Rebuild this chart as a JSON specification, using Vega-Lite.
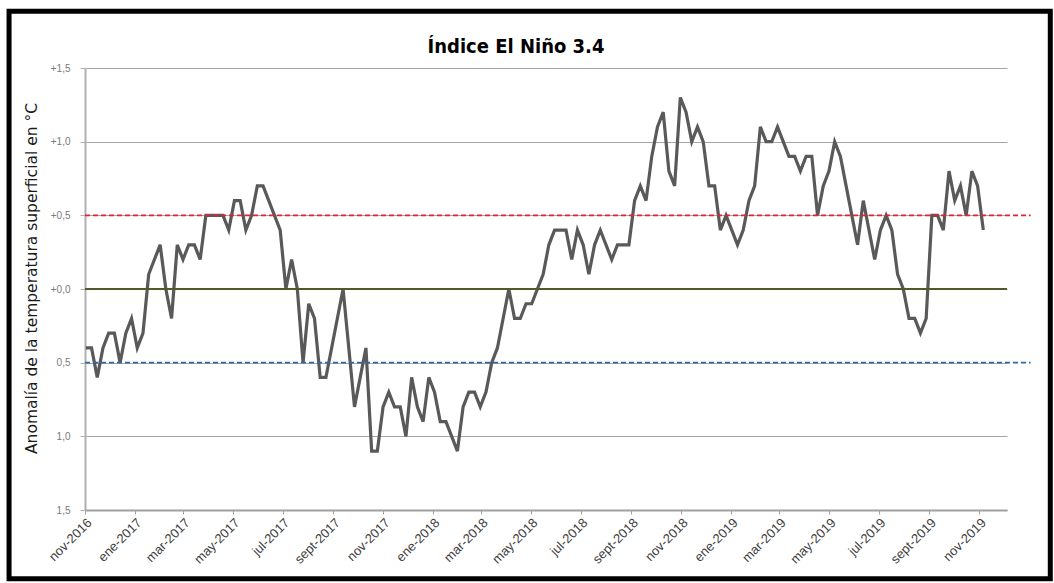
{
  "$schema": "https://vega.github.io/schema/vega-lite/v6.json",
  "width": 922,
  "height": 442,
  "autosize": "none",
  "padding": {"left": 85, "top": 68, "right": 47, "bottom": 73},
  "background": "white",
  "config": {"view": {"stroke": null}, "font": "Liberation Sans"},
  "title": {
    "text": "Índice El Niño 3.4",
    "anchor": "middle",
    "frame": "group",
    "dx": -30,
    "offset": -48,
    "font": "Liberation Sans Narrow, DejaVu Sans Condensed, sans-serif",
    "fontSize": 20,
    "fontWeight": 600,
    "color": "#000000"
  },
  "data": {
    "values": [
      {"d": "2016-11-02", "v": -0.4}, {"d": "2016-11-09", "v": -0.4}, {"d": "2016-11-16", "v": -0.6}, {"d": "2016-11-23", "v": -0.4},
      {"d": "2016-11-30", "v": -0.3}, {"d": "2016-12-07", "v": -0.3}, {"d": "2016-12-14", "v": -0.5}, {"d": "2016-12-21", "v": -0.3},
      {"d": "2016-12-28", "v": -0.2}, {"d": "2017-01-04", "v": -0.4}, {"d": "2017-01-11", "v": -0.3}, {"d": "2017-01-18", "v": 0.1},
      {"d": "2017-01-25", "v": 0.2}, {"d": "2017-02-01", "v": 0.3}, {"d": "2017-02-08", "v": 0.0}, {"d": "2017-02-15", "v": -0.2},
      {"d": "2017-02-22", "v": 0.3}, {"d": "2017-03-01", "v": 0.2}, {"d": "2017-03-08", "v": 0.3}, {"d": "2017-03-15", "v": 0.3},
      {"d": "2017-03-22", "v": 0.2}, {"d": "2017-03-29", "v": 0.5}, {"d": "2017-04-05", "v": 0.5}, {"d": "2017-04-12", "v": 0.5},
      {"d": "2017-04-19", "v": 0.5}, {"d": "2017-04-26", "v": 0.4}, {"d": "2017-05-03", "v": 0.6}, {"d": "2017-05-10", "v": 0.6},
      {"d": "2017-05-17", "v": 0.4}, {"d": "2017-05-24", "v": 0.5}, {"d": "2017-05-31", "v": 0.7}, {"d": "2017-06-07", "v": 0.7},
      {"d": "2017-06-14", "v": 0.6}, {"d": "2017-06-21", "v": 0.5}, {"d": "2017-06-28", "v": 0.4}, {"d": "2017-07-05", "v": 0.0},
      {"d": "2017-07-12", "v": 0.2}, {"d": "2017-07-19", "v": 0.0}, {"d": "2017-07-26", "v": -0.5}, {"d": "2017-08-02", "v": -0.1},
      {"d": "2017-08-09", "v": -0.2}, {"d": "2017-08-16", "v": -0.6}, {"d": "2017-08-23", "v": -0.6}, {"d": "2017-08-30", "v": -0.4},
      {"d": "2017-09-06", "v": -0.2}, {"d": "2017-09-13", "v": 0.0}, {"d": "2017-09-20", "v": -0.4}, {"d": "2017-09-27", "v": -0.8},
      {"d": "2017-10-04", "v": -0.6}, {"d": "2017-10-11", "v": -0.4}, {"d": "2017-10-18", "v": -1.1}, {"d": "2017-10-25", "v": -1.1},
      {"d": "2017-11-01", "v": -0.8}, {"d": "2017-11-08", "v": -0.7}, {"d": "2017-11-15", "v": -0.8}, {"d": "2017-11-22", "v": -0.8},
      {"d": "2017-11-29", "v": -1.0}, {"d": "2017-12-06", "v": -0.6}, {"d": "2017-12-13", "v": -0.8}, {"d": "2017-12-20", "v": -0.9},
      {"d": "2017-12-27", "v": -0.6}, {"d": "2018-01-03", "v": -0.7}, {"d": "2018-01-10", "v": -0.9}, {"d": "2018-01-17", "v": -0.9},
      {"d": "2018-01-24", "v": -1.0}, {"d": "2018-01-31", "v": -1.1}, {"d": "2018-02-07", "v": -0.8}, {"d": "2018-02-14", "v": -0.7},
      {"d": "2018-02-21", "v": -0.7}, {"d": "2018-02-28", "v": -0.8}, {"d": "2018-03-07", "v": -0.7}, {"d": "2018-03-14", "v": -0.5},
      {"d": "2018-03-21", "v": -0.4}, {"d": "2018-03-28", "v": -0.2}, {"d": "2018-04-04", "v": 0.0}, {"d": "2018-04-11", "v": -0.2},
      {"d": "2018-04-18", "v": -0.2}, {"d": "2018-04-25", "v": -0.1}, {"d": "2018-05-02", "v": -0.1}, {"d": "2018-05-09", "v": 0.0},
      {"d": "2018-05-16", "v": 0.1}, {"d": "2018-05-23", "v": 0.3}, {"d": "2018-05-30", "v": 0.4}, {"d": "2018-06-06", "v": 0.4},
      {"d": "2018-06-13", "v": 0.4}, {"d": "2018-06-20", "v": 0.2}, {"d": "2018-06-27", "v": 0.4}, {"d": "2018-07-04", "v": 0.3},
      {"d": "2018-07-11", "v": 0.1}, {"d": "2018-07-18", "v": 0.3}, {"d": "2018-07-25", "v": 0.4}, {"d": "2018-08-01", "v": 0.3},
      {"d": "2018-08-08", "v": 0.2}, {"d": "2018-08-15", "v": 0.3}, {"d": "2018-08-22", "v": 0.3}, {"d": "2018-08-29", "v": 0.3},
      {"d": "2018-09-05", "v": 0.6}, {"d": "2018-09-12", "v": 0.7}, {"d": "2018-09-19", "v": 0.6}, {"d": "2018-09-26", "v": 0.9},
      {"d": "2018-10-03", "v": 1.1}, {"d": "2018-10-10", "v": 1.2}, {"d": "2018-10-17", "v": 0.8}, {"d": "2018-10-24", "v": 0.7},
      {"d": "2018-10-31", "v": 1.3}, {"d": "2018-11-07", "v": 1.2}, {"d": "2018-11-14", "v": 1.0}, {"d": "2018-11-21", "v": 1.1},
      {"d": "2018-11-28", "v": 1.0}, {"d": "2018-12-05", "v": 0.7}, {"d": "2018-12-12", "v": 0.7}, {"d": "2018-12-19", "v": 0.4},
      {"d": "2018-12-26", "v": 0.5}, {"d": "2019-01-02", "v": 0.4}, {"d": "2019-01-09", "v": 0.3}, {"d": "2019-01-16", "v": 0.4},
      {"d": "2019-01-23", "v": 0.6}, {"d": "2019-01-30", "v": 0.7}, {"d": "2019-02-06", "v": 1.1}, {"d": "2019-02-13", "v": 1.0},
      {"d": "2019-02-20", "v": 1.0}, {"d": "2019-02-27", "v": 1.1}, {"d": "2019-03-06", "v": 1.0}, {"d": "2019-03-13", "v": 0.9},
      {"d": "2019-03-20", "v": 0.9}, {"d": "2019-03-27", "v": 0.8}, {"d": "2019-04-03", "v": 0.9}, {"d": "2019-04-10", "v": 0.9},
      {"d": "2019-04-17", "v": 0.5}, {"d": "2019-04-24", "v": 0.7}, {"d": "2019-05-01", "v": 0.8}, {"d": "2019-05-08", "v": 1.0},
      {"d": "2019-05-15", "v": 0.9}, {"d": "2019-05-22", "v": 0.7}, {"d": "2019-05-29", "v": 0.5}, {"d": "2019-06-05", "v": 0.3},
      {"d": "2019-06-12", "v": 0.6}, {"d": "2019-06-19", "v": 0.4}, {"d": "2019-06-26", "v": 0.2}, {"d": "2019-07-03", "v": 0.4},
      {"d": "2019-07-10", "v": 0.5}, {"d": "2019-07-17", "v": 0.4}, {"d": "2019-07-24", "v": 0.1}, {"d": "2019-07-31", "v": 0.0},
      {"d": "2019-08-07", "v": -0.2}, {"d": "2019-08-14", "v": -0.2}, {"d": "2019-08-21", "v": -0.3}, {"d": "2019-08-28", "v": -0.2},
      {"d": "2019-09-04", "v": 0.5}, {"d": "2019-09-11", "v": 0.5}, {"d": "2019-09-18", "v": 0.4}, {"d": "2019-09-25", "v": 0.8},
      {"d": "2019-10-02", "v": 0.6}, {"d": "2019-10-09", "v": 0.7}, {"d": "2019-10-16", "v": 0.5}, {"d": "2019-10-23", "v": 0.8},
      {"d": "2019-10-30", "v": 0.7}, {"d": "2019-11-06", "v": 0.4}
    ]
  },
  "layer": [
    {
      "mark": {"type": "line", "color": "#595959", "strokeWidth": 3.2, "strokeJoin": "miter"},
      "encoding": {
        "x": {
          "field": "d",
          "type": "temporal",
          "scale": {
            "type": "utc",
            "domain": [{"year": 2016, "month": 11, "date": 1, "utc": true}, {"year": 2019, "month": 12, "date": 5, "utc": true}]
          },
          "axis": {
            "title": null,
            "values": [
              {"year": 2016, "month": 11, "date": 1, "utc": true},
              {"year": 2017, "month": 1, "date": 1, "utc": true},
              {"year": 2017, "month": 3, "date": 1, "utc": true},
              {"year": 2017, "month": 5, "date": 1, "utc": true},
              {"year": 2017, "month": 7, "date": 1, "utc": true},
              {"year": 2017, "month": 9, "date": 1, "utc": true},
              {"year": 2017, "month": 11, "date": 1, "utc": true},
              {"year": 2018, "month": 1, "date": 1, "utc": true},
              {"year": 2018, "month": 3, "date": 1, "utc": true},
              {"year": 2018, "month": 5, "date": 1, "utc": true},
              {"year": 2018, "month": 7, "date": 1, "utc": true},
              {"year": 2018, "month": 9, "date": 1, "utc": true},
              {"year": 2018, "month": 11, "date": 1, "utc": true},
              {"year": 2019, "month": 1, "date": 1, "utc": true},
              {"year": 2019, "month": 3, "date": 1, "utc": true},
              {"year": 2019, "month": 5, "date": 1, "utc": true},
              {"year": 2019, "month": 7, "date": 1, "utc": true},
              {"year": 2019, "month": 9, "date": 1, "utc": true},
              {"year": 2019, "month": 11, "date": 1, "utc": true}
            ],
            "labelExpr": "['ene','feb','mar','abr','may','jun','jul','ago','sept','oct','nov','dic'][utcmonth(datum.value)] + '-' + utcyear(datum.value)",
            "labelAngle": -45,
            "labelFont": "Liberation Sans",
            "labelFontSize": 13,
            "labelColor": "#404040",
            "labelPadding": 2,
            "labelOverlap": false,
            "labelFlush": false,
            "grid": false,
            "domainColor": "#a0a0a0",
            "domainWidth": 2,
            "tickColor": "#a0a0a0",
            "tickSize": 4
          }
        },
        "y": {
          "field": "v",
          "type": "quantitative",
          "scale": {"domain": [-1.5, 1.5], "nice": false, "zero": false},
          "axis": {
            "title": "Anomalía de la temperatura superficial en °C",
            "titleFont": "DejaVu Sans",
            "titleFontSize": 15.5,
            "titleFontWeight": "normal",
            "titleColor": "#1a1a1a",
            "titlePadding": 11,
            "titleY": 210,
            "values": [-1.5, -1, -0.5, 0, 0.5, 1, 1.5],
            "labelExpr": "datum.value > 0 ? '+' + replace(format(datum.value, '.1f'), '.', ',') : (datum.value == 0 ? '+0,0' : replace(format(-datum.value, '.1f'), '.', ','))",
            "labelFont": "Liberation Sans",
            "labelFontSize": 10,
            "labelColor": "#7a7a7a",
            "labelPadding": 10,
            "grid": true,
            "gridColor": "#a6a6a6",
            "gridWidth": 1.2,
            "domainColor": "#b0b0b0",
            "domainWidth": 2,
            "tickColor": "#b0b0b0",
            "tickSize": 5
          }
        }
      }
    },
    {
      "data": {"values": [{}]},
      "mark": {"type": "rule", "color": "#4f5a2a", "strokeWidth": 2},
      "encoding": {
        "y": {"datum": 0, "type": "quantitative"}
      }
    },
    {
      "data": {"values": [{}]},
      "mark": {"type": "rule", "color": "#e8202a", "strokeWidth": 1.6, "strokeDash": [5, 3]},
      "encoding": {
        "x": {"datum": {"year": 2016, "month": 11, "date": 1, "utc": true}, "type": "temporal"},
        "x2": {"datum": {"year": 2020, "month": 1, "date": 3, "utc": true}},
        "y": {"datum": 0.5, "type": "quantitative"}
      }
    },
    {
      "data": {"values": [{}]},
      "mark": {"type": "rule", "color": "#2a6aa8", "strokeWidth": 1.6, "strokeDash": [5, 3]},
      "encoding": {
        "x": {"datum": {"year": 2016, "month": 11, "date": 1, "utc": true}, "type": "temporal"},
        "x2": {"datum": {"year": 2020, "month": 1, "date": 3, "utc": true}},
        "y": {"datum": -0.5, "type": "quantitative"}
      }
    },
    {
      "data": {"values": [{}]},
      "mark": {"type": "rect", "fill": null, "stroke": "black", "strokeWidth": 5},
      "encoding": {
        "x": {"datum": {"year": 2016, "month": 7, "date": 31, "utc": true}, "type": "temporal"},
        "x2": {"datum": {"year": 2020, "month": 1, "date": 27, "utc": true}},
        "y": {"datum": 1.885, "type": "quantitative"},
        "y2": {"datum": -1.966}
      }
    }
  ]
}
